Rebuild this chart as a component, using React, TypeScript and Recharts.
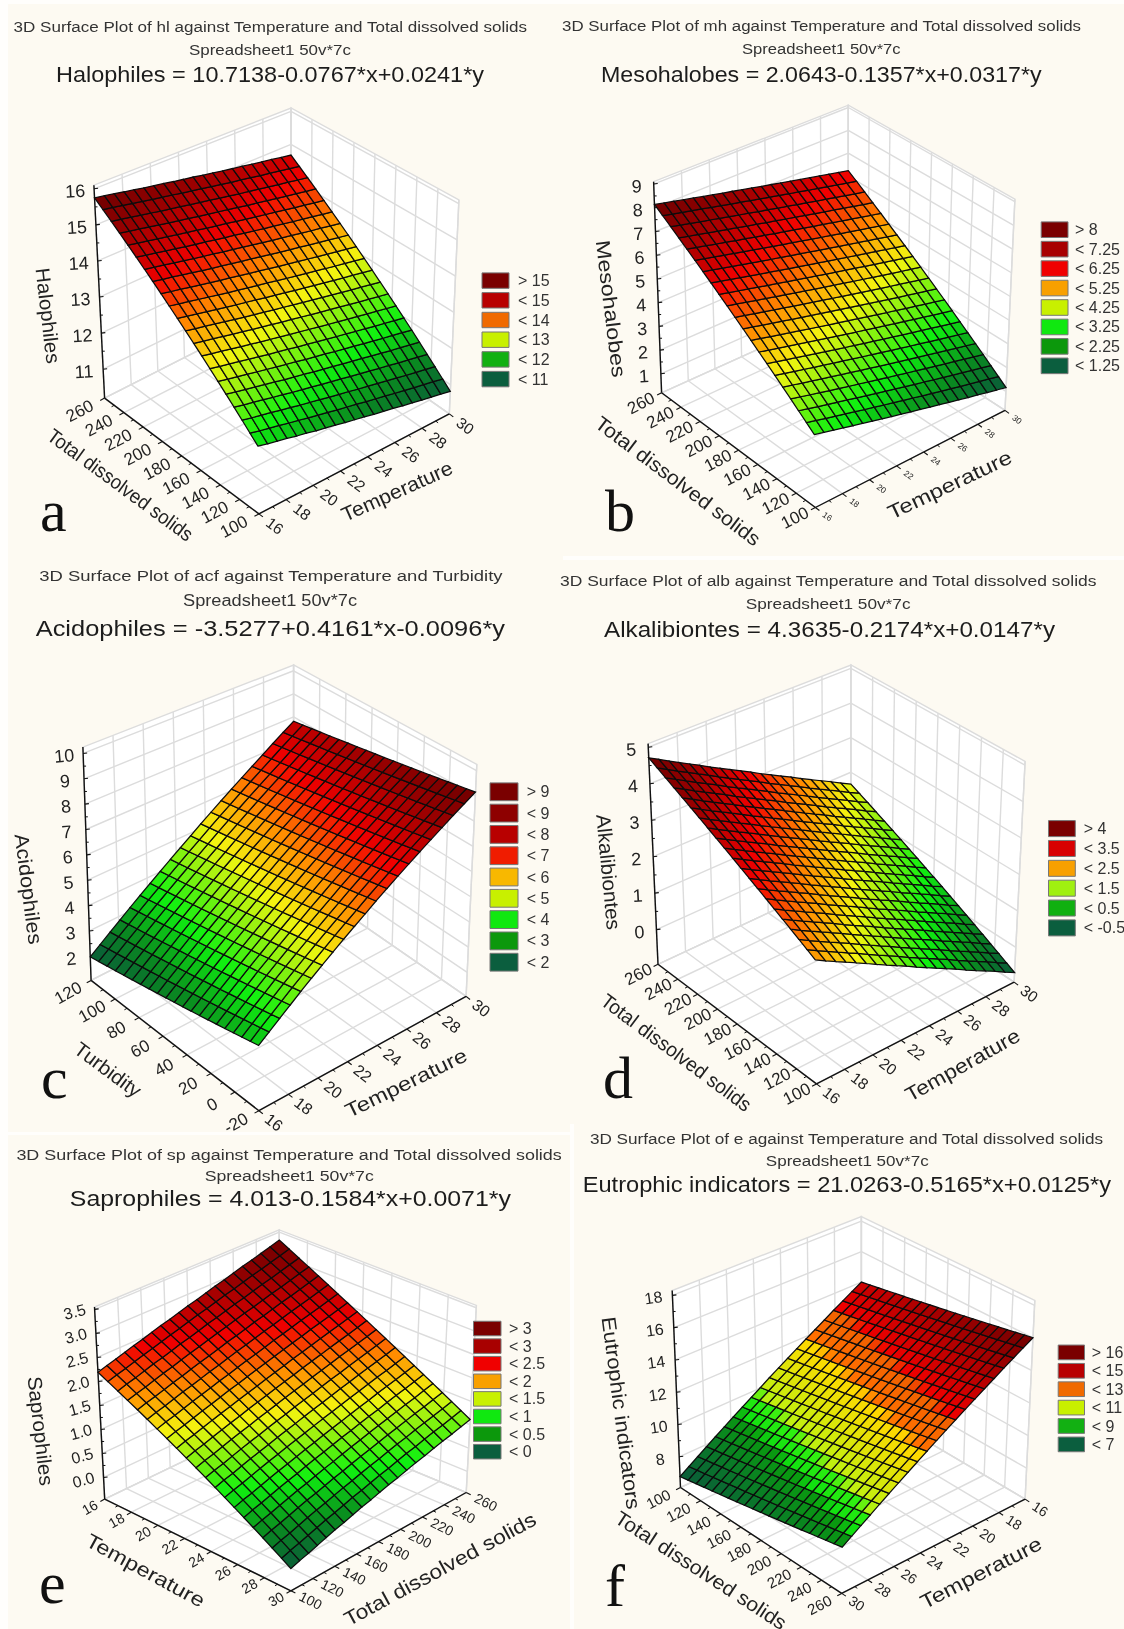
import { ScatterChart, Scatter, XAxis, YAxis } from "recharts";

// surface grid, same for all six plots
const tempGrid = [16, 16.7, 17.4, 18.1, 18.8, 19.5, 20.2, 20.9, 21.6, 22.3, 23, 23.7, 24.4, 25.1, 25.8, 26.5, 27.2, 27.9, 28.6, 29.3, 30];
const tdsGrid = [100, 108, 116, 124, 132, 140, 148, 156, 164, 172, 180, 188, 196, 204, 212, 220, 228, 236, 244, 252, 260];
const turbGrid = [-20, -13, -6, 1, 8, 15, 22, 29, 36, 43, 50, 57, 64, 71, 78, 85, 92, 99, 106, 113, 120];

const tempTicks = [16, 18, 20, 22, 24, 26, 28, 30];
const tdsTicks = [100, 120, 140, 160, 180, 200, 220, 240, 260];
const turbTicks = [-20, 0, 20, 40, 60, 80, 100, 120];

// surface heights along the front edge (near) and the far edge of each plot
const halNear = [11.9, 11.84, 11.79, 11.74, 11.68, 11.63, 11.57, 11.52, 11.47, 11.41, 11.36, 11.31, 11.25, 11.2, 11.15, 11.09, 11.04, 10.98, 10.93, 10.88, 10.82];
const halFar = [15.75, 15.7, 15.65, 15.59, 15.54, 15.48, 15.43, 15.38, 15.32, 15.27, 15.22, 15.16, 15.11, 15.05, 15, 14.95, 14.89, 14.84, 14.79, 14.73, 14.68];
const mesNear = [3.06, 2.97, 2.87, 2.78, 2.68, 2.59, 2.49, 2.4, 2.3, 2.21, 2.11, 2.02, 1.92, 1.83, 1.73, 1.64, 1.54, 1.45, 1.35, 1.26, 1.16];
const mesFar = [8.14, 8.04, 7.95, 7.85, 7.76, 7.66, 7.57, 7.47, 7.38, 7.28, 7.19, 7.09, 7, 6.9, 6.81, 6.71, 6.62, 6.52, 6.43, 6.33, 6.24];
const acdNear = [3.32, 3.61, 3.9, 4.19, 4.49, 4.78, 5.07, 5.36, 5.65, 5.94, 6.23, 6.53, 6.82, 7.11, 7.4, 7.69, 7.98, 8.27, 8.57, 8.86, 9.15];
const acdFar = [1.98, 2.27, 2.56, 2.85, 3.15, 3.44, 3.73, 4.02, 4.31, 4.6, 4.89, 5.19, 5.48, 5.77, 6.06, 6.35, 6.64, 6.93, 7.23, 7.52, 7.81];
const alkNear = [2.36, 2.2, 2.05, 1.9, 1.75, 1.6, 1.44, 1.29, 1.14, 0.99, 0.83, 0.68, 0.53, 0.38, 0.23, 0.07, -0.08, -0.23, -0.38, -0.54, -0.69];
const alkFar = [4.71, 4.56, 4.4, 4.25, 4.1, 3.95, 3.79, 3.64, 3.49, 3.34, 3.19, 3.03, 2.88, 2.73, 2.58, 2.42, 2.27, 2.12, 1.97, 1.81, 1.66];
const sapNear = [-0.03, 0.03, 0.08, 0.14, 0.2, 0.26, 0.31, 0.37, 0.43, 0.48, 0.54, 0.6, 0.65, 0.71, 0.77, 0.82, 0.88, 0.94, 0.99, 1.05, 1.11];
const sapFar = [2.19, 2.25, 2.3, 2.36, 2.42, 2.47, 2.53, 2.59, 2.64, 2.7, 2.76, 2.81, 2.87, 2.93, 2.98, 3.04, 3.1, 3.15, 3.21, 3.27, 3.33];
const eutNear = [8.78, 9.14, 9.5, 9.86, 10.23, 10.59, 10.95, 11.31, 11.67, 12.03, 12.4, 12.76, 13.12, 13.48, 13.84, 14.2, 14.56, 14.93, 15.29, 15.65, 16.01];
const eutFar = [6.78, 7.14, 7.5, 7.86, 8.23, 8.59, 8.95, 9.31, 9.67, 10.03, 10.4, 10.76, 11.12, 11.48, 11.84, 12.2, 12.56, 12.93, 13.29, 13.65, 14.01];

const halLegend = ["> 15", "< 15", "< 14", "< 13", "< 12", "< 11"];
const mesLegend = ["> 8", "< 7.25", "< 6.25", "< 5.25", "< 4.25", "< 3.25", "< 2.25", "< 1.25"];
const acdLegend = ["> 9", "< 9", "< 8", "< 7", "< 6", "< 5", "< 4", "< 3", "< 2"];
const alkLegend = ["> 4", "< 3.5", "< 2.5", "< 1.5", "< 0.5", "< -0.5"];
const sapLegend = ["> 3", "< 3", "< 2.5", "< 2", "< 1.5", "< 1", "< 0.5", "< 0"];
const eutLegend = ["> 16", "< 15", "< 13", "< 11", "< 9", "< 7"];

const legend6 = ["#7a0000", "#b80000", "#f06a00", "#c8f000", "#12b012", "#0b5e3e"];
const legend8 = ["#7a0000", "#a80000", "#f00000", "#f8a000", "#c8f000", "#10e810", "#0c980c", "#0b5e3e"];
const legend9 = ["#7a0000", "#8e0000", "#b80000", "#f01c00", "#f8b800", "#c8f000", "#10e810", "#0c980c", "#0b5e3e"];
const alkColors = ["#7a0000", "#d80000", "#f8a000", "#a0f010", "#10b010", "#0b5e3e"];

type Stop = [number, string];
const smoothRamp: Stop[] = [[0, "#0a5a3a"], [0.12, "#0a8a20"], [0.25, "#10f010"], [0.45, "#f4f410"], [0.58, "#ff8c00"], [0.72, "#f00000"], [0.88, "#9a0000"], [1, "#6e0000"]];
const bandRamp: Stop[] = [[0, "#0a5a3a"], [0.13, "#0a7a28"], [0.25, "#0a9a10"], [0.27, "#10e010"], [0.33, "#30f010"], [0.35, "#c0f010"], [0.55, "#ffd800"], [0.57, "#ff7000"], [0.67, "#f06000"], [0.69, "#f00000"], [0.8, "#c00000"], [1, "#700000"]];

type Pt = { u: number; v: number };
const pt = (u: number, v: number): Pt => ({ u, v });

const panels = [
  {
    key: "a", rect: [0, 0, 575, 560],
    floor: [pt(258.9, 513.9), pt(449.3, 413.9), pt(104.6, 398.1), pt(291, 303.4)],
    top: [pt(255.4, 278.8), pt(458.9, 199.9), pt(93.9, 185.2), pt(291, 108)],
    aGrid: tempGrid, bGrid: tdsGrid, near: halNear, far: halFar, zRange: [10.2, 16.1], ramp: smoothRamp,
    aTicks: tempTicks, bTicks: tdsTicks, zTicks: [11, 12, 13, 14, 15, 16], zDigits: 0,
    aOff: 20, bOff: 28, zOff: 19, aFont: 15.5, bFont: 17, zFont: 18, zRot: -3,
    titles: [
      ["3D Surface Plot of hl against Temperature and Total dissolved solids", 13.6, 527, 26.3, 15.5],
      ["Spreadsheet1 50v*7c", 189, 351, 49, 15.5],
      ["Halophiles = 10.7138-0.0767*x+0.0241*y", 56, 484, 74.7, 22],
    ],
    axisText: [["Halophiles", 48, 315.7, 96, 83.4], ["Total dissolved solids", 120.5, 484.8, 175, 36.3], ["Temperature", 397, 491, 119.5, -24.2]],
    letter: [40, 531],
    legend: { labels: halLegend, colors: legend6, x0: 482, x1: 509, y: 280.6, step: 19.7, h: 15.4, textX: 518 },
  },
  {
    key: "b", rect: [555, 0, 569, 560],
    floor: [pt(815.4, 507.5), pt(1005, 410.4), pt(661.6, 392.8), pt(848.3, 308.7)],
    top: [pt(812, 280.6), pt(1014.9, 199.2), pt(653.6, 181.7), pt(848.3, 105.2)],
    aGrid: tempGrid, bGrid: tdsGrid, near: mesNear, far: mesFar, zRange: [0.2, 9.1], ramp: smoothRamp,
    aTicks: tempTicks, bTicks: tdsTicks, zTicks: [1, 2, 3, 4, 5, 6, 7, 8, 9], zDigits: 0,
    aOff: 15, bOff: 23, zOff: 17, aFont: 8.5, bFont: 17, zFont: 18, zRot: -3,
    titles: [
      ["3D Surface Plot of mh against Temperature and Total dissolved solids", 562, 1081, 25.6, 15.5],
      ["Spreadsheet1 50v*7c", 742, 900.6, 48, 15.5],
      ["Mesohalobes = 2.0643-0.1357*x+0.0317*y", 601, 1041.6, 74.4, 22],
    ],
    axisText: [["Mesohalobes", 611, 308.7, 138, 83], ["Total dissolved solids", 678, 481, 201, 36.9], ["Temperature", 949.7, 484.7, 135, -25.4]],
    letter: [605, 531],
    legend: { labels: mesLegend, colors: legend8, x0: 1041.2, x1: 1068, y: 229.7, step: 19.45, h: 15.6, textX: 1075 },
  },
  {
    key: "c", rect: [0, 545, 575, 600],
    floor: [pt(258.9, 1110.7), pt(466.1, 996.4), pt(91.1, 980.4), pt(293.6, 877.1)],
    top: [pt(257.9, 846.4), pt(476.8, 764.3), pt(82.9, 747.1), pt(293.6, 665)],
    aGrid: tempGrid, bGrid: turbGrid, near: acdNear, far: acdFar, zRange: [1.05, 10.25], ramp: smoothRamp,
    aTicks: tempTicks, bTicks: turbTicks, zTicks: [2, 3, 4, 5, 6, 7, 8, 9, 10], zDigits: 0,
    aOff: 19, bOff: 26, zOff: 19, aFont: 16, bFont: 17, zFont: 18, zRot: -5,
    titles: [
      ["3D Surface Plot of acf against Temperature and Turbidity", 39.3, 502.5, 575.7, 15.5],
      ["Spreadsheet1 50v*7c", 183, 357, 600.7, 16],
      ["Acidophiles = -3.5277+0.4161*x-0.0096*y", 35.7, 505, 628.6, 22],
    ],
    axisText: [["Acidophiles", 28.6, 889, 111, 82.6], ["Turbidity", 107.9, 1069.6, 77.8, 36.6], ["Temperature", 406, 1082.9, 133, -26]],
    letter: [41, 1098],
    legend: { labels: acdLegend, colors: legend9, x0: 490, x1: 518, y: 791.8, step: 21.3, h: 17.8, textX: 526.8 },
  },
  {
    key: "d", rect: [555, 545, 569, 600],
    floor: [pt(816.5, 1083.9), pt(1014.1, 982.1), pt(658, 964.3), pt(850.9, 874.3)],
    top: [pt(814.3, 857.1), pt(1025.1, 761.4), pt(648.1, 743.6), pt(850.9, 665)],
    aGrid: tempGrid, bGrid: tdsGrid, near: alkNear, far: alkFar, zRange: [-0.95, 5.1], ramp: smoothRamp,
    aTicks: tempTicks, bTicks: tdsTicks, zTicks: [0, 1, 2, 3, 4, 5], zDigits: 0,
    aOff: 19, bOff: 22, zOff: 17, aFont: 15.5, bFont: 17, zFont: 18, zRot: -3,
    titles: [
      ["3D Surface Plot of alb against Temperature and Total dissolved solids", 560, 1096.5, 580.4, 15.5],
      ["Spreadsheet1 50v*7c", 745.8, 910.5, 603.6, 15.5],
      ["Alkalibiontes = 4.3635-0.2174*x+0.0147*y", 604, 1055, 629.3, 22],
    ],
    axisText: [["Alkalibiontes", 608.6, 872, 116, 84.6], ["Total dissolved solids", 676.3, 1052.5, 182, 36.7], ["Temperature", 962.5, 1065, 128, -29.2]],
    letter: [603, 1098],
    legend: { labels: alkLegend, colors: alkColors, x0: 1048.5, x1: 1075.3, y: 828.6, step: 19.86, h: 16, textX: 1083.7 },
  },
  {
    key: "e", rect: [0, 1120, 575, 509],
    floor: [pt(290.9, 1590.8), pt(466.2, 1492.5), pt(104.7, 1499.1), pt(279.3, 1415.3)],
    top: [pt(290.9, 1378.9), pt(476.4, 1305.4), pt(94.5, 1307), pt(279.3, 1229.9)],
    aGrid: tdsGrid, bGrid: [...tempGrid].reverse(), near: sapNear, far: sapFar, zRange: [-0.45, 3.55], ramp: smoothRamp,
    aTicks: tdsTicks, bTicks: tempTicks, zTicks: [0, 0.5, 1, 1.5, 2, 2.5, 3, 3.5], zDigits: 1,
    aOff: 22, bOff: 17, zOff: 20, aFont: 14, bFont: 14, zFont: 16, zRot: -15,
    titles: [
      ["3D Surface Plot of sp against Temperature and Total dissolved solids", 16.4, 561.8, 1154.7, 15.5],
      ["Spreadsheet1 50v*7c", 204.7, 373.8, 1175, 15.5],
      ["Saprophiles = 4.013-0.1584*x+0.0071*y", 69.8, 510.9, 1198.7, 22],
    ],
    axisText: [["Saprophiles", 40.7, 1431, 110, 83.4], ["Temperature", 145.5, 1570.3, 132, 28.5], ["Total dissolved solids", 440, 1569, 215, -28.5]],
    letter: [39, 1603],
    legend: { labels: sapLegend, colors: legend8, x0: 473.5, x1: 501, y: 1328.5, step: 17.6, h: 14.5, textX: 509 },
  },
  {
    key: "f", rect: [555, 1120, 569, 509],
    floor: [pt(841.7, 1593.4), pt(1025.1, 1499.1), pt(680.5, 1487.5), pt(861.4, 1402.7)],
    top: [pt(844.2, 1382.8), pt(1034.8, 1300.4), pt(672.2, 1290.5), pt(861.4, 1216.6)],
    aGrid: [...tempGrid].reverse(), bGrid: [...tdsGrid].reverse(), near: eutNear, far: eutFar, zRange: [6.1, 18.3], ramp: bandRamp,
    aTicks: tempTicks, bTicks: tdsTicks, zTicks: [8, 10, 12, 14, 16, 18], zDigits: 0,
    aOff: 18, bOff: 25, zOff: 19, aFont: 14, bFont: 15, zFont: 16, zRot: -8,
    titles: [
      ["3D Surface Plot of e against Temperature and Total dissolved solids", 589.9, 1103.2, 1138.8, 15.5],
      ["Spreadsheet1 50v*7c", 765.8, 928.7, 1160.3, 15.5],
      ["Eutrophic indicators = 21.0263-0.5165*x+0.0125*y", 582.7, 1111, 1184.5, 22],
    ],
    axisText: [["Eutrophic indicators", 621.2, 1413, 194, 82.5], ["Total dissolved solids", 701, 1570.3, 200, 33], ["Temperature", 980.9, 1572.6, 133.6, -27.3]],
    letter: [605, 1606],
    legend: { labels: eutLegend, colors: legend6, x0: 1058.2, x1: 1084.5, y: 1352.4, step: 18.4, h: 14.7, textX: 1091.7 },
  },
];

const lerp = (a: number, b: number, t: number) => a + (b - a) * t;

function rampColor(ramp: Stop[], t: number) {
  for (let i = 1; i < ramp.length; i++) {
    if (t <= ramp[i][0]) {
      const [t0, c0] = ramp[i - 1];
      const [t1, c1] = ramp[i];
      const f = (t - t0) / (t1 - t0);
      const ch = (s: string, k: number) => parseInt(s.slice(k, k + 2), 16);
      const mix = [1, 3, 5].map((k) => Math.round(lerp(ch(c0, k), ch(c1, k), f)));
      return `rgb(${mix.join(",")})`;
    }
  }
  return ramp[ramp.length - 1][1];
}

// trilinear projection of the 3D box onto the picture plane
function makeProject(floor: Pt[], top: Pt[]) {
  const face = (q: Pt[], a: number, b: number) =>
    pt(
      lerp(lerp(q[0].u, q[1].u, a), lerp(q[2].u, q[3].u, a), b),
      lerp(lerp(q[0].v, q[1].v, a), lerp(q[2].v, q[3].v, a), b)
    );
  return (a: number, b: number, c: number) => {
    const p0 = face(floor, a, b);
    const p1 = face(top, a, b);
    return pt(lerp(p0.u, p1.u, c), lerp(p0.v, p1.v, c));
  };
}

const Poly = (props: any) => {
  const { cx, cy, payload } = props;
  const pts = payload.pts
    .map((p: Pt) => `${cx + p.u - payload.u},${cy + p.v - payload.v}`)
    .join(" ");
  return <polygon points={pts} fill={payload.fill} stroke={payload.stroke} strokeWidth={payload.sw} />;
};

const Seg = (props: any) => {
  const { cx, cy, payload } = props;
  return (
    <line x1={cx} y1={cy} x2={cx + payload.u2 - payload.u} y2={cy + payload.v2 - payload.v} stroke={payload.stroke} strokeWidth={payload.sw} />
  );
};

const Label = (props: any) => {
  const { cx, cy, payload } = props;
  return (
    <text
      x={cx}
      y={cy}
      fontFamily={payload.serif ? "Liberation Serif" : "Liberation Sans"}
      fontSize={payload.size}
      fill={payload.color || "#222"}
      textAnchor={payload.anchor || "middle"}
      dominantBaseline={payload.serif ? "auto" : "central"}
      transform={payload.rot ? `rotate(${payload.rot} ${cx} ${cy})` : undefined}
      textLength={payload.len}
      lengthAdjust={payload.len ? "spacingAndGlyphs" : undefined}
    >
      {payload.text}
    </text>
  );
};

const angleOf = (p: Pt, q: Pt) => (Math.atan2(q.v - p.v, q.u - p.u) * 180) / Math.PI;

function buildPanel(p: (typeof panels)[number]) {
  const project = makeProject(p.floor, p.top);
  const [F, R, L] = p.floor;
  const aFrac = (x: number) => (x - p.aGrid[0]) / (p.aGrid[p.aGrid.length - 1] - p.aGrid[0]);
  const bFrac = (x: number) => (x - p.bGrid[0]) / (p.bGrid[p.bGrid.length - 1] - p.bGrid[0]);
  const zFrac = (z: number) => (z - p.zRange[0]) / (p.zRange[1] - p.zRange[0]);
  const grey = "#dcdcdc";

  const seg = (s: Pt, e: Pt, stroke: string, sw: number) => ({ u: s.u, v: s.v, u2: e.u, v2: e.v, stroke, sw });
  const poly = (pts: Pt[], fill: string, stroke: string, sw: number) => ({ u: pts[0].u, v: pts[0].v, pts, fill, stroke, sw });

  const walls = [
    poly([project(0, 1, 0), project(1, 1, 0), project(1, 1, 1), project(0, 1, 1)], "#fff", grey, 1.4),
    poly([project(1, 1, 0), project(1, 0, 0), project(1, 0, 1), project(1, 1, 1)], "#fff", grey, 1.4),
    poly([project(0, 0, 0), project(1, 0, 0), project(1, 1, 0), project(0, 1, 0)], "#fff", grey, 1.4),
  ];

  const grid: any[] = [];
  p.aTicks.forEach((t) => {
    const a = aFrac(t);
    grid.push(seg(project(a, 0, 0), project(a, 1, 0), grey, 1.4), seg(project(a, 1, 0), project(a, 1, 1), grey, 1.4));
  });
  p.bTicks.forEach((t) => {
    const b = bFrac(t);
    grid.push(seg(project(0, b, 0), project(1, b, 0), grey, 1.4), seg(project(1, b, 0), project(1, b, 1), grey, 1.4));
  });
  p.zTicks.forEach((t) => {
    const c = zFrac(t);
    grid.push(seg(project(0, 1, c), project(1, 1, c), grey, 1.4), seg(project(1, 1, c), project(1, 0, c), grey, 1.4));
  });

  // surface cells
  const n = p.bGrid.length - 1;
  const all = [...p.near, ...p.far];
  const zLow = Math.min(...all);
  const zHigh = Math.max(...all);
  const zAt = (i: number, j: number) => lerp(p.near[i], p.far[i], j / n);
  const node = (i: number, j: number) => project(aFrac(p.aGrid[i]), bFrac(p.bGrid[j]), zFrac(zAt(i, j)));
  const cells: any[] = [];
  for (let i = 0; i < p.aGrid.length - 1; i++) {
    for (let j = 0; j < n; j++) {
      const mid = (zAt(i, j) + zAt(i + 1, j) + zAt(i + 1, j + 1) + zAt(i, j + 1)) / 4;
      cells.push(
        poly(
          [node(i, j), node(i + 1, j), node(i + 1, j + 1), node(i, j + 1)],
          rampColor(p.ramp, (mid - zLow) / (zHigh - zLow)),
          "#0c0c0c",
          1.25
        )
      );
    }
  }

  // axis lines, ticks, labels
  const unit = (s: Pt, e: Pt) => {
    const d = Math.hypot(e.u - s.u, e.v - s.v);
    return pt((e.u - s.u) / d, (e.v - s.v) / d);
  };
  const dirR = unit(F, R);
  const dirL = unit(F, L);
  const axes: any[] = [seg(L, F, "#111", 1.4), seg(F, R, "#111", 1.4), seg(project(0, 1, 0), project(0, 1, 1), "#111", 1.4)];
  const labels: any[] = [];
  const rotA = angleOf(L, F);
  const rotB = angleOf(F, R);
  const minors = (ticks: number[]) => ticks.slice(1).map((t, i) => (t + ticks[i]) / 2);

  p.aTicks.forEach((t) => {
    const e = project(aFrac(t), 0, 0);
    axes.push(seg(e, pt(e.u - dirL.u * 5, e.v - dirL.v * 5), "#111", 1.1));
    labels.push({ u: e.u - dirL.u * p.aOff, v: e.v - dirL.v * p.aOff, text: String(t), size: p.aFont, rot: rotA });
  });
  minors(p.aTicks).forEach((t) => {
    const e = project(aFrac(t), 0, 0);
    axes.push(seg(e, pt(e.u - dirL.u * 3, e.v - dirL.v * 3), "#111", 1));
  });
  p.bTicks.forEach((t) => {
    const e = project(0, bFrac(t), 0);
    axes.push(seg(e, pt(e.u - dirR.u * 5, e.v - dirR.v * 5), "#111", 1.1));
    labels.push({ u: e.u - dirR.u * p.bOff, v: e.v - dirR.v * p.bOff, text: String(t), size: p.bFont, rot: rotB });
  });
  minors(p.bTicks).forEach((t) => {
    const e = project(0, bFrac(t), 0);
    axes.push(seg(e, pt(e.u - dirR.u * 3, e.v - dirR.v * 3), "#111", 1));
  });
  p.zTicks.forEach((t) => {
    const e = project(0, 1, zFrac(t));
    axes.push(seg(e, pt(e.u + 4, e.v - 0.5), "#111", 1.1));
    labels.push({ u: e.u - p.zOff, v: e.v + 2.5, text: t.toFixed(p.zDigits), size: p.zFont, rot: p.zRot });
  });
  minors(p.zTicks).forEach((t) => {
    const e = project(0, 1, zFrac(t));
    axes.push(seg(e, pt(e.u + 2.5, e.v), "#111", 1));
  });

  p.axisText.forEach((t: any) => {
    labels.push({ u: t[1], v: t[2], text: t[0], size: 20, len: t[3], rot: t[4], color: "#222" });
  });
  p.titles.forEach((t: any) => {
    labels.push({ u: (t[1] + t[2]) / 2, v: t[3], text: t[0], size: t[4], len: t[2] - t[1], color: t[4] > 20 ? "#1c1c1c" : "#333" });
  });
  labels.push({ u: p.letter[0], v: p.letter[1], text: p.key, size: 60, serif: true, anchor: "start", color: "#111" });

  // legend
  const lg = p.legend;
  const swatches = lg.colors.map((c, i) => {
    const y = lg.y + i * lg.step;
    return poly([pt(lg.x0, y - lg.h / 2), pt(lg.x1, y - lg.h / 2), pt(lg.x1, y + lg.h / 2), pt(lg.x0, y + lg.h / 2)], c, "#777", 1);
  });
  lg.labels.forEach((s, i) => {
    labels.push({ u: lg.textX, v: lg.y + i * lg.step, text: s, size: 16, anchor: "start", color: "#333" });
  });

  return { walls, grid, cells, axes, labels, swatches };
}

function SurfacePanel({ panel }: { panel: (typeof panels)[number] }) {
  const [x, y, w, h] = panel.rect;
  const m = buildPanel(panel);
  return (
    <div style={{ position: "absolute", left: x, top: y, width: w, height: h }}>
      <ScatterChart width={w} height={h} margin={{ top: 0, right: 0, bottom: 0, left: 0 }}>
        <XAxis type="number" dataKey="u" domain={[x, x + w]} hide />
        <YAxis type="number" dataKey="v" domain={[y, y + h]} reversed hide />
        <Scatter data={m.walls} shape={Poly} isAnimationActive={false} />
        <Scatter data={m.grid} shape={Seg} isAnimationActive={false} />
        <Scatter data={m.axes} shape={Seg} isAnimationActive={false} />
        <Scatter data={m.cells} shape={Poly} isAnimationActive={false} />
        <Scatter data={m.swatches} shape={Poly} isAnimationActive={false} />
        <Scatter data={m.labels} shape={Label} isAnimationActive={false} />
      </ScatterChart>
    </div>
  );
}

// pale strips left where the six source images were pasted together
const pasteStrips = [
  [0, 0, 8, 1629],
  [0, 0, 1124, 4],
  [563, 556, 561, 4],
  [8, 1132, 564, 3],
  [570, 1124, 4, 505],
];

export default function App() {
  return (
    <div
      style={{
        position: "absolute",
        left: 0,
        top: 0,
        width: 1124,
        height: 1629,
        overflow: "hidden",
        background: "#fdfaf2",
        filter: "blur(0.6px)",
      }}
    >
      {pasteStrips.map(([x, y, w, h], i) => (
        <div key={i} style={{ position: "absolute", left: x, top: y, width: w, height: h, background: "#fffefc" }} />
      ))}
      {panels.map((p) => (
        <SurfacePanel key={p.key} panel={p} />
      ))}
    </div>
  );
}
